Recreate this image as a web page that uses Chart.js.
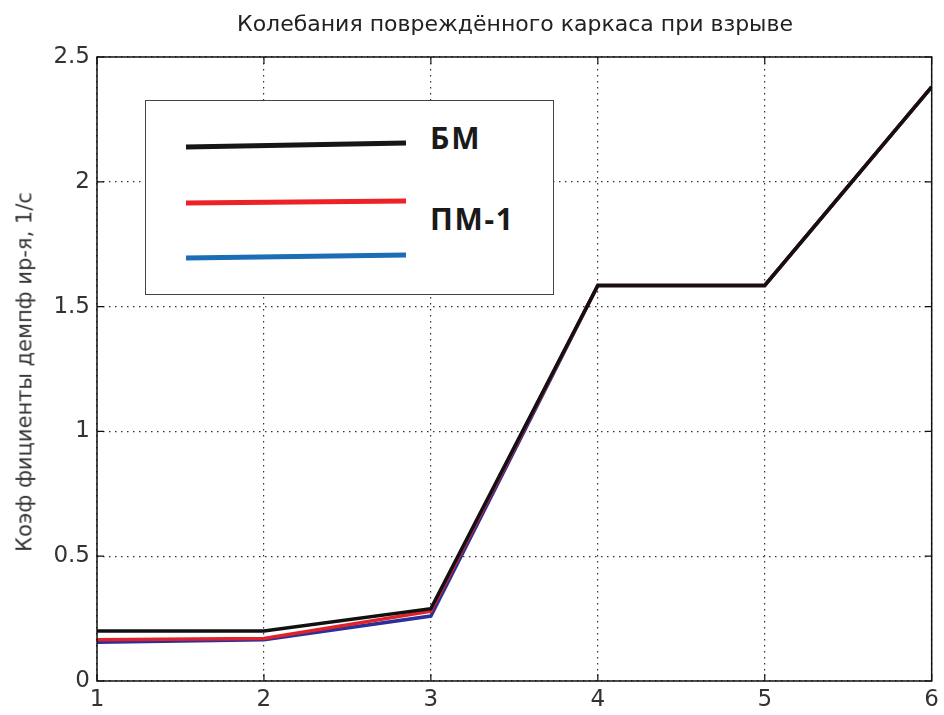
<!DOCTYPE html>
<html>
<head>
<meta charset="utf-8">
<script src="https://cdn.jsdelivr.net/npm/chart.js@4"></script>
<style>
  html, body { margin: 0; padding: 0; background: #fff; }
  #wrap { position: relative; width: 944px; height: 715px; }
  #c { position: absolute; left: 0; top: 0; }
  #title {
    position: absolute; left: 515px; top: 24px; transform: translate(-50%, -50%);
    white-space: nowrap; font: 22px "DejaVu Sans", sans-serif; color: #222; line-height: 1.2;
  }
  #ytitle {
    position: absolute; left: 25px; top: 372px;
    transform: translate(-50%, -50%) rotate(-90deg);
    white-space: nowrap; font: 21px "DejaVu Sans", sans-serif; color: #333; line-height: 1.2;
  }
  #legend {
    position: absolute; left: 145px; top: 100px; width: 409px; height: 195px;
    border: 1px solid #444; background: #fff; box-sizing: border-box;
  }
  #legend svg { position: absolute; left: 0; top: 0; }
  .lg { position: absolute; font: bold 30px "Noto Sans", "Open Sans", sans-serif; color: #1a1a1a; letter-spacing: 1.7px; line-height: 1; }
</style>
</head>
<body>
<div id="wrap">
  <canvas id="c" width="944" height="715"></canvas>
  <div id="title"></div>
  <div id="ytitle">Коэф фициенты демпф ир-я, 1/с</div>
  <div id="legend">
    <svg width="409" height="195">
      <line x1="40" y1="46" x2="260" y2="42" stroke="#161616" stroke-width="5"/>
      <line x1="40" y1="102" x2="260" y2="100" stroke="#ec2227" stroke-width="5"/>
      <line x1="40" y1="157" x2="260" y2="154" stroke="#1b6db5" stroke-width="5"/>
    </svg>
    <div class="lg" style="left:284px; top:22px;">БМ</div>
    <div class="lg" style="left:284px; top:103px;">ПМ-1</div>
  </div>
</div>
<script>
const xValues = [1, 2, 3, 4, 5, 6];
const bmValues = [0.2, 0.2, 0.29, 1.585, 1.585, 2.38];
const pm1Values = [0.165, 0.17, 0.28, 1.585, 1.585, 2.38];
const thirdValues = [0.155, 0.165, 0.26, 1.585, 1.585, 2.38];
const xTicks = [1, 2, 3, 4, 5, 6];
const yTicks = [0, 0.5, 1, 1.5, 2, 2.5];
const chartTitle = 'Колебания повреждённого каркаса при взрыве';

document.getElementById('title').textContent = chartTitle;

const toPts = (vals) => xValues.map((x, i) => ({ x: x, y: vals[i] }));

const boxPlugin = {
  id: 'matlabBox',
  afterDatasetsDraw(chart) {
    const { ctx, chartArea: a, scales } = chart;
    ctx.save();
    ctx.strokeStyle = '#111';
    ctx.lineWidth = 1.5;
    ctx.strokeRect(a.left, a.top, a.right - a.left, a.bottom - a.top);
    ctx.lineWidth = 1.2;
    const tl = 7;
    xTicks.forEach(v => {
      const px = scales.x.getPixelForValue(v);
      ctx.beginPath();
      ctx.moveTo(px, a.bottom); ctx.lineTo(px, a.bottom - tl);
      ctx.moveTo(px, a.top); ctx.lineTo(px, a.top + tl);
      ctx.stroke();
    });
    yTicks.forEach(v => {
      const py = scales.y.getPixelForValue(v);
      ctx.beginPath();
      ctx.moveTo(a.left, py); ctx.lineTo(a.left + tl, py);
      ctx.moveTo(a.right, py); ctx.lineTo(a.right - tl, py);
      ctx.stroke();
    });
    ctx.restore();
  }
};

const tickFont = { family: '"DejaVu Sans", sans-serif', size: 23 };

new Chart(document.getElementById('c'), {
  type: 'line',
  data: {
    datasets: [
      { label: 'БМ', data: toPts(bmValues), borderColor: '#111111', borderWidth: 3.5, pointRadius: 0, tension: 0 },
      { label: 'ПМ-1', data: toPts(pm1Values), borderColor: '#e0232a', borderWidth: 3.5, pointRadius: 0, tension: 0 },
      { label: '', data: toPts(thirdValues), borderColor: '#2a2f9a', borderWidth: 3.5, pointRadius: 0, tension: 0 }
    ]
  },
  options: {
    responsive: false,
    animation: false,
    layout: { padding: { left: 0, right: 11, top: 57, bottom: 0 } },
    plugins: {
      legend: { display: false },
      tooltip: { enabled: false },
      title: { display: false }
    },
    scales: {
      x: {
        type: 'linear', min: 1, max: 6,
        afterFit: (s) => { s.height = 34; },
        afterBuildTicks: (s) => { s.ticks = xTicks.map(v => ({ value: v })); },
        grid: { color: '#333', lineWidth: 1.2, drawTicks: false },
        border: { display: false, dash: [1.5, 4.5] },
        ticks: { padding: 5, color: '#333', font: tickFont, callback: (v) => String(v) }
      },
      y: {
        type: 'linear', min: 0, max: 2.5,
        afterFit: (s) => { s.width = 97; },
        afterBuildTicks: (s) => { s.ticks = yTicks.map(v => ({ value: v })); },
        grid: { color: '#333', lineWidth: 1.2, drawTicks: false },
        border: { display: false, dash: [1.5, 4.5] },
        ticks: { padding: 7, color: '#333', font: tickFont, callback: (v) => String(v) }
      }
    }
  },
  plugins: [boxPlugin]
});
</script>
</body>
</html>
